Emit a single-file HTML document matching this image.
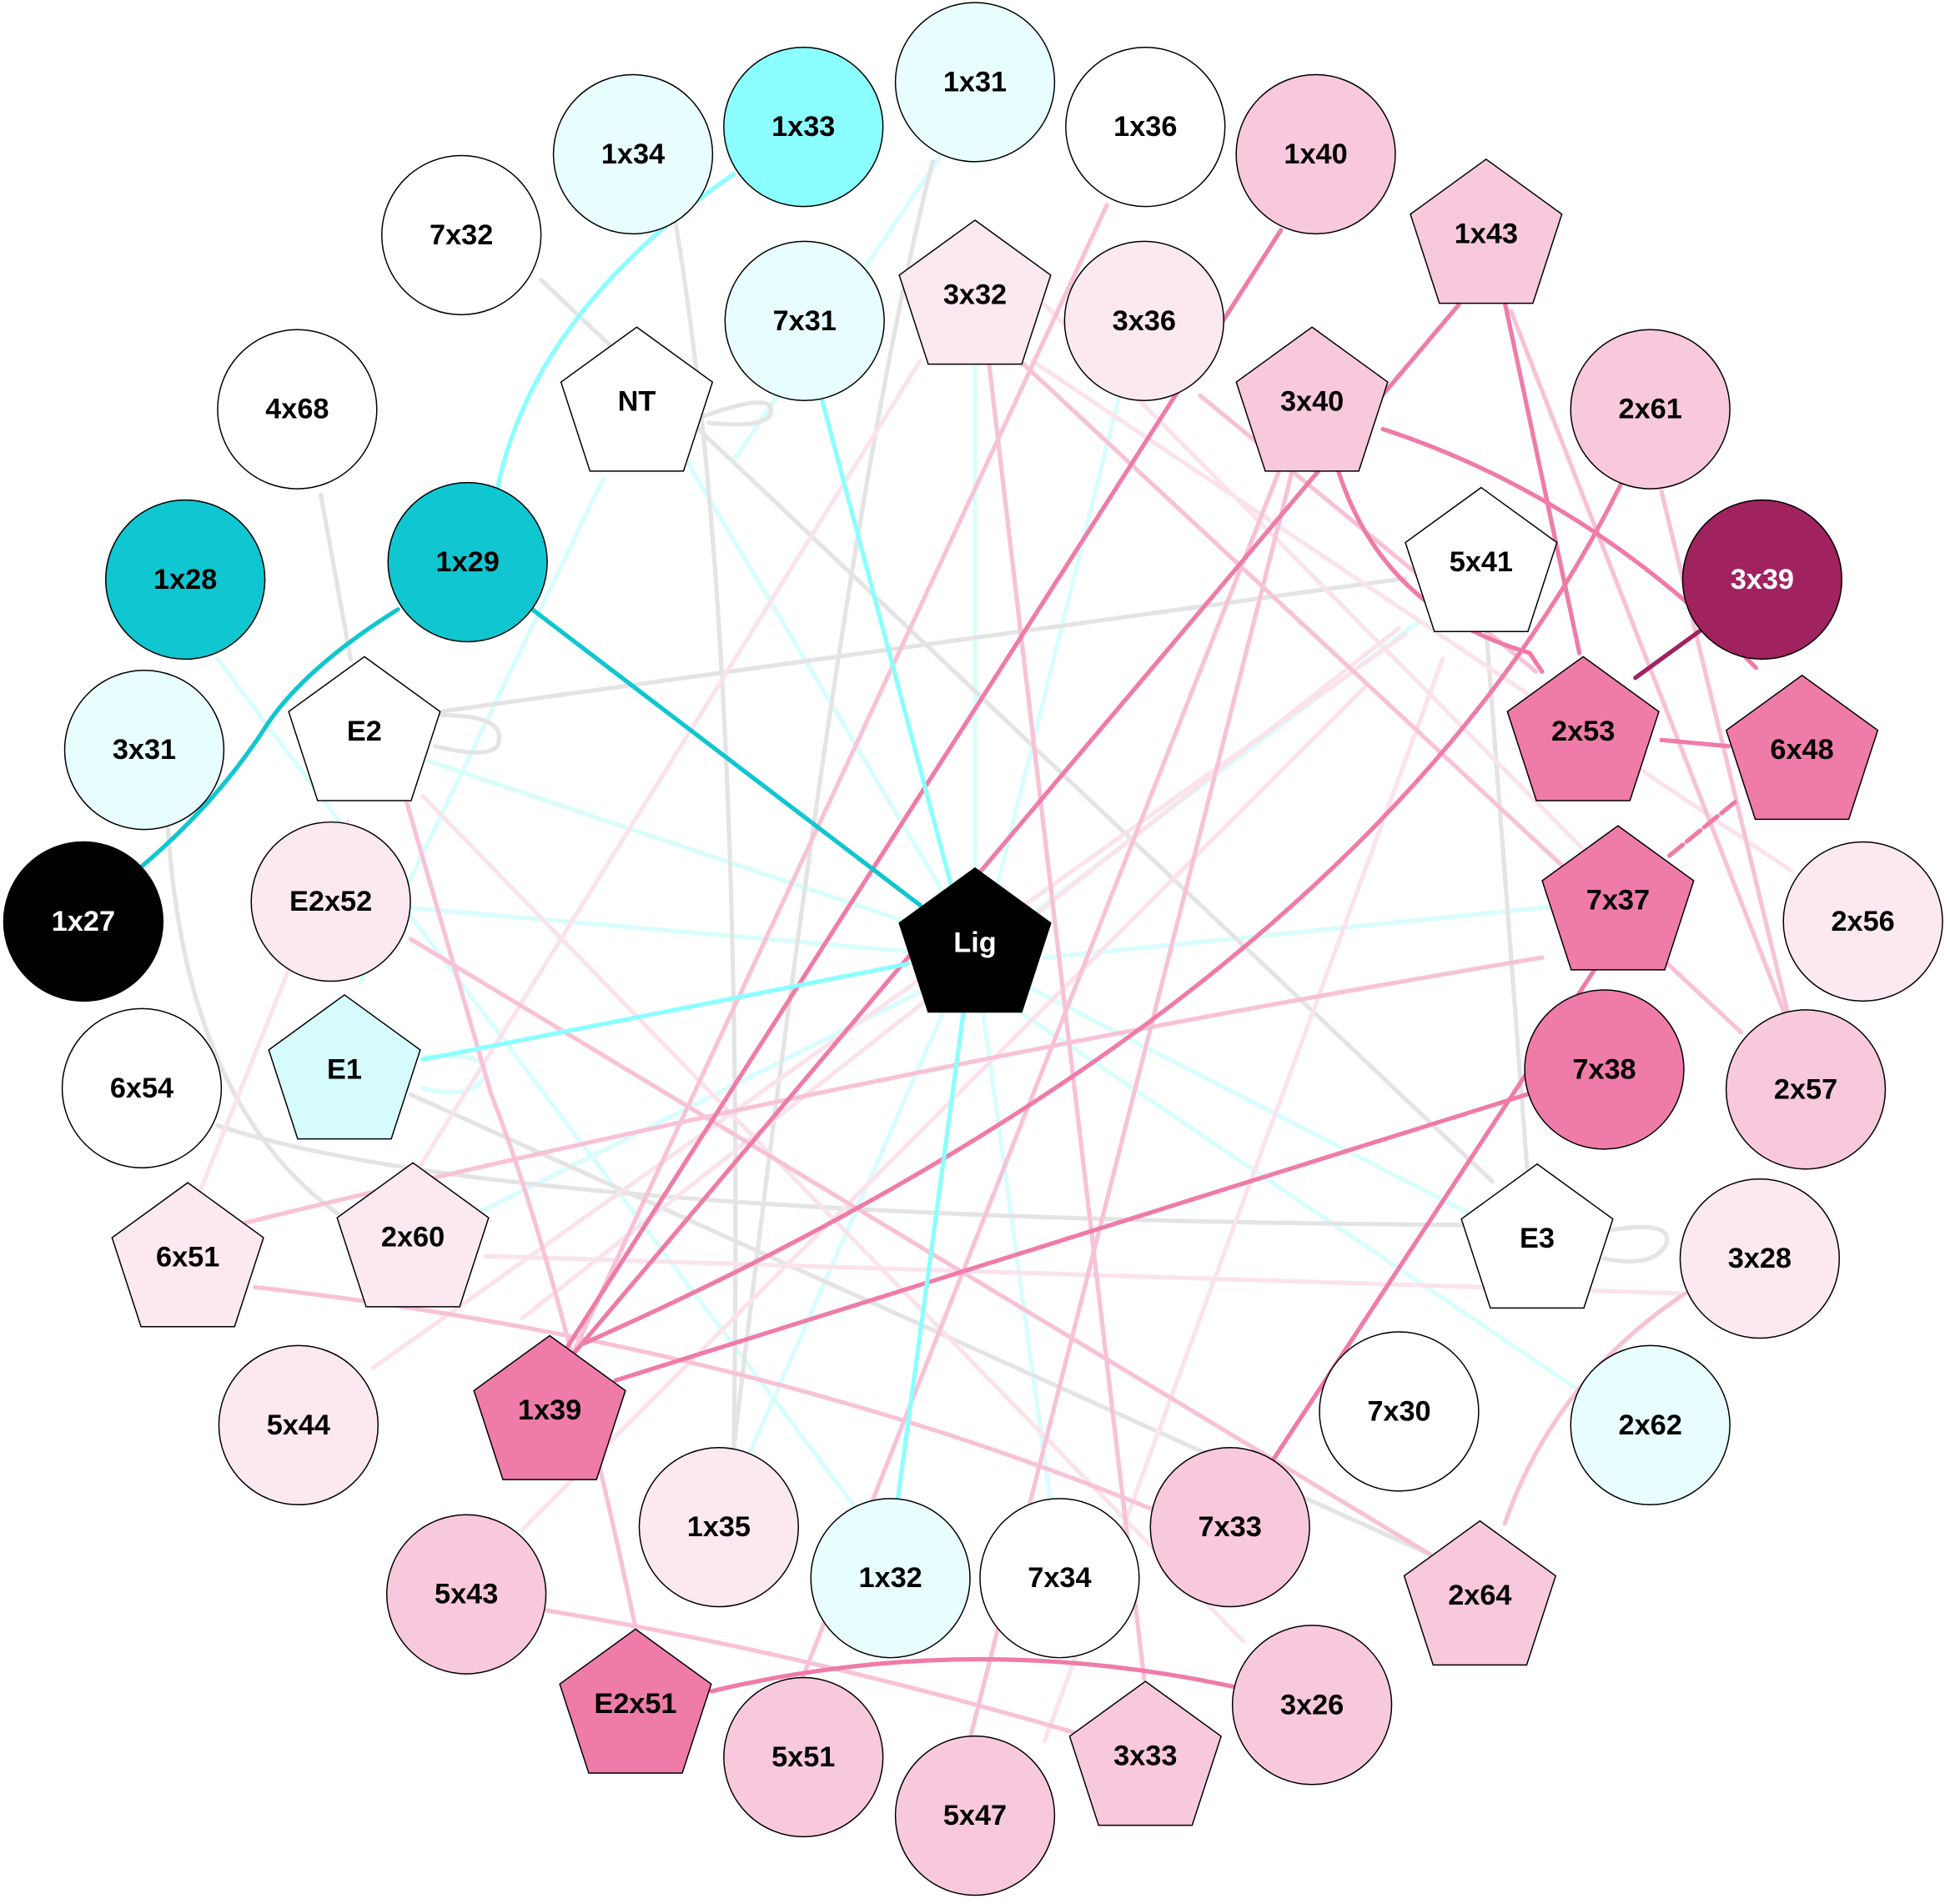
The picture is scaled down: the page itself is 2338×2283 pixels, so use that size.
<!DOCTYPE html>
<html><head><meta charset="utf-8"><style>
html,body{margin:0;padding:0;background:#fff}
svg{display:block}
text{font-family:"Liberation Sans",Arial,sans-serif;font-weight:bold;font-size:23px;text-anchor:middle;dominant-baseline:central}
.n{stroke:#000;stroke-width:1}
</style></head><body>
<svg width="2338" height="2283" viewBox="0 0 1568 1531" xmlns="http://www.w3.org/2000/svg">
<g fill="none" stroke-width="3.5" stroke-linecap="round">
<g stroke="#d8fdfd">
<line x1="784" y1="290" x2="784" y2="720"/>
<line x1="900" y1="318" x2="800" y2="720"/>
<line x1="540" y1="350" x2="760" y2="720"/>
<line x1="345" y1="612" x2="740" y2="745"/>
<line x1="330" y1="730" x2="730" y2="765"/>
<line x1="1140" y1="500" x2="830" y2="735"/>
<line x1="800" y1="800" x2="1280" y2="1125"/>
<line x1="790" y1="810" x2="845" y2="1210"/>
<line x1="760" y1="810" x2="600" y2="1175"/>
<line x1="745" y1="795" x2="385" y2="975"/>
<line x1="820" y1="790" x2="1180" y2="975"/>
<line x1="760" y1="120" x2="590" y2="370"/>
<line x1="485" y1="385" x2="290" y2="790"/>
<line x1="175" y1="530" x2="690" y2="1215"/>
<line x1="840" y1="770" x2="1290" y2="725"/>
</g>
<g stroke="#e4e4e4">
<path d="M540 160 Q600 500 590 1165"/>
<path d="M750 130 Q680 400 590 1165"/>
<line x1="435" y1="225" x2="1200" y2="950"/>
<line x1="258" y1="398" x2="282" y2="530"/>
<path d="M135 665 Q150 900 285 985"/>
<path d="M175 905 Q400 980 1180 985"/>
<line x1="355" y1="572" x2="1130" y2="465"/>
<line x1="330" y1="880" x2="1150" y2="1250"/>
<line x1="1195" y1="505" x2="1228" y2="940"/>
<path d="M355 575 Q410 575 400 600 Q390 610 350 600"/>
<path d="M565 335 Q620 315 620 330 Q620 345 570 340"/>
<path d="M1290 990 Q1345 980 1340 1000 Q1330 1020 1290 1012"/>
</g>
<path d="M340 850 Q395 845 390 865 Q380 885 340 875" stroke="#d8fdfd"/>
<g stroke="#fbe3ec">
<line x1="740" y1="290" x2="330" y2="950"/>
<line x1="1125" y1="505" x2="420" y2="1060"/>
<line x1="1130" y1="510" x2="300" y2="1100"/>
<line x1="1160" y1="530" x2="840" y2="1400"/>
<line x1="830" y1="290" x2="1440" y2="700"/>
<line x1="840" y1="245" x2="1290" y2="700"/>
<line x1="390" y1="1010" x2="1350" y2="1040"/>
<line x1="420" y1="1230" x2="1100" y2="550"/>
<line x1="340" y1="640" x2="1000" y2="1320"/>
<line x1="160" y1="960" x2="280" y2="660"/>
</g>
<g stroke="#f8c2d6">
<line x1="890" y1="165" x2="460" y2="1090"/>
<line x1="795" y1="290" x2="920" y2="1350"/>
<line x1="820" y1="290" x2="1400" y2="830"/>
<line x1="965" y1="318" x2="1235" y2="540"/>
<line x1="1215" y1="250" x2="1435" y2="815"/>
<line x1="1336" y1="395" x2="1437" y2="812"/>
<line x1="1030" y1="375" x2="645" y2="1350"/>
<line x1="1040" y1="375" x2="780" y2="1398"/>
<path d="M1240 770 Q700 860 190 985"/>
<path d="M327 645 L395 880 Q450 1020 513 1318"/>
<line x1="330" y1="755" x2="1150" y2="1250"/>
<path d="M205 1035 Q600 1080 930 1215"/>
<path d="M440 1295 Q650 1330 870 1395"/>
<path d="M1355 1040 Q1250 1110 1210 1225"/>
</g>
<g stroke="#ef7ba8">
<line x1="1030" y1="185" x2="455" y2="1085"/>
<line x1="1173" y1="245" x2="460" y2="1090"/>
<path d="M1303 390 Q1100 800 470 1080"/>
<line x1="1228" y1="880" x2="495" y2="1110"/>
<path d="M1075 375 Q1110 490 1230 525 L1240 540"/>
<path d="M1112 345 Q1280 400 1412 537"/>
<line x1="1210" y1="243" x2="1270" y2="525"/>
<line x1="1336" y1="595" x2="1390" y2="600"/>
<line x1="1395" y1="645" x2="1340" y2="690" stroke-dasharray="14 4"/>
<line x1="1282" y1="780" x2="1023" y2="1175"/>
<path d="M572 1360 Q780 1310 995 1357"/>
</g>
<line x1="1370" y1="505" x2="1315" y2="545" stroke="#a0225e"/>
<path d="M590 140 Q430 250 400 392" stroke="#8bffff"/>
<line x1="660" y1="318" x2="767" y2="720" stroke="#8bffff"/>
<line x1="775" y1="812" x2="722" y2="1205" stroke="#8bffff"/>
<line x1="340" y1="852" x2="730" y2="775" stroke="#8bffff"/>
<path d="M320 490 Q240 540 210 590 Q170 650 110 700" stroke="#10c6d0"/>
<line x1="428" y1="490" x2="740" y2="728" stroke="#10c6d0"/>
</g>
<g class="n">
<circle cx="784" cy="66" r="64" fill="#e8fefe"/>
<circle cx="646" cy="102" r="64" fill="#8bffff"/>
<circle cx="509" cy="124" r="64" fill="#e8fefe"/>
<circle cx="921" cy="102" r="64" fill="#fff"/>
<circle cx="1058" cy="124" r="64" fill="#f8c8dc"/>
<circle cx="371" cy="189" r="64" fill="#fff"/>
<circle cx="647" cy="258" r="64" fill="#e8fefe"/>
<circle cx="920" cy="258" r="64" fill="#fbe8f0"/>
<circle cx="239" cy="329" r="64" fill="#fff"/>
<circle cx="1327" cy="329" r="64" fill="#f8c8dc"/>
<circle cx="149" cy="466" r="64" fill="#10c6d0"/>
<circle cx="376" cy="452" r="64" fill="#10c6d0"/>
<circle cx="1417" cy="466" r="64" fill="#a0225e"/>
<circle cx="116" cy="603" r="64" fill="#e8fefe"/>
<circle cx="67" cy="741" r="64" fill="#000"/>
<circle cx="266" cy="725" r="64" fill="#fbe8f0"/>
<circle cx="1498" cy="741" r="64" fill="#fbe8f0"/>
<circle cx="114" cy="875" r="64" fill="#fff"/>
<circle cx="1290" cy="860" r="64" fill="#ef7ba8"/>
<circle cx="1452" cy="876" r="64" fill="#f8c8dc"/>
<circle cx="1415" cy="1012" r="64" fill="#fbe8f0"/>
<circle cx="240" cy="1146" r="64" fill="#fbe8f0"/>
<circle cx="1125" cy="1135" r="64" fill="#fff"/>
<circle cx="1327" cy="1146" r="64" fill="#e8fefe"/>
<circle cx="578" cy="1228" r="64" fill="#fbe8f0"/>
<circle cx="989" cy="1228" r="64" fill="#f8c8dc"/>
<circle cx="716" cy="1269" r="64" fill="#e8fefe"/>
<circle cx="852" cy="1269" r="64" fill="#fff"/>
<circle cx="375" cy="1282" r="64" fill="#f8c8dc"/>
<circle cx="1055" cy="1371" r="64" fill="#f8c8dc"/>
<circle cx="646" cy="1413" r="64" fill="#f8c8dc"/>
<circle cx="784" cy="1460" r="64" fill="#f8c8dc"/>
</g>
<g class="n" id="pents"></g>
<g>
<text x="784" y="66">1x31</text><text x="646" y="102">1x33</text><text x="509" y="124">1x34</text>
<text x="921" y="102">1x36</text><text x="1058" y="124">1x40</text><text x="371" y="189">7x32</text>
<text x="647" y="258">7x31</text><text x="920" y="258">3x36</text><text x="239" y="329">4x68</text>
<text x="1327" y="329">2x61</text><text x="149" y="466">1x28</text><text x="376" y="452">1x29</text>
<text x="1417" y="466" fill="#fff">3x39</text><text x="116" y="603">3x31</text><text x="67" y="741" fill="#fff">1x27</text>
<text x="266" y="725">E2x52</text><text x="1498" y="741">2x56</text><text x="114" y="875">6x54</text>
<text x="1290" y="860">7x38</text><text x="1452" y="876">2x57</text><text x="1415" y="1012">3x28</text>
<text x="240" y="1146">5x44</text><text x="1125" y="1135">7x30</text><text x="1327" y="1146">2x62</text>
<text x="578" y="1228">1x35</text><text x="989" y="1228">7x33</text><text x="716" y="1269">1x32</text>
<text x="852" y="1269">7x34</text><text x="375" y="1282">5x43</text><text x="1055" y="1371">3x26</text>
<text x="646" y="1413">5x51</text><text x="784" y="1460">5x47</text>
</g>
<g id="plabels"></g>
<script>
var P=[["3x32",784,237,"#fbe8f0"],["1x43",1195,188,"#f8c8dc"],["NT",512,323,"#fff"],["3x40",1055,323,"#f8c8dc"],["5x41",1191,452,"#fff"],["E2",293,588,"#fff"],["2x53",1273,588,"#ef7ba8"],["6x48",1449,603,"#ef7ba8"],["Lig",784,758,"#000"],["7x37",1301,724,"#ef7ba8"],["E1",277,860,"#d5fbfd"],["2x60",332,995,"#fbe8f0"],["6x51",151,1011,"#fbe8f0"],["E3",1236,996,"#fff"],["1x39",442,1134,"#ef7ba8"],["2x64",1190,1283,"#f8c8dc"],["E2x51",511,1370,"#ef7ba8"],["3x33",921,1412,"#f8c8dc"]];
var g=document.getElementById("pents"),t=document.getElementById("plabels"),ns="http://www.w3.org/2000/svg";
P.forEach(function(p){var R=64,cx=p[1],cy=p[2]+4,pts=[];for(var i=0;i<5;i++){var a=-Math.PI/2+i*2*Math.PI/5;pts.push((cx+R*Math.cos(a)).toFixed(1)+","+(cy+R*Math.sin(a)).toFixed(1));}
var e=document.createElementNS(ns,"polygon");e.setAttribute("points",pts.join(" "));e.setAttribute("fill",p[3]);g.appendChild(e);
var x=document.createElementNS(ns,"text");x.setAttribute("x",cx);x.setAttribute("y",p[2]);if(p[0]=="Lig")x.setAttribute("fill","#fff");x.textContent=p[0];t.appendChild(x);});
</script>
</svg>
</body></html>
